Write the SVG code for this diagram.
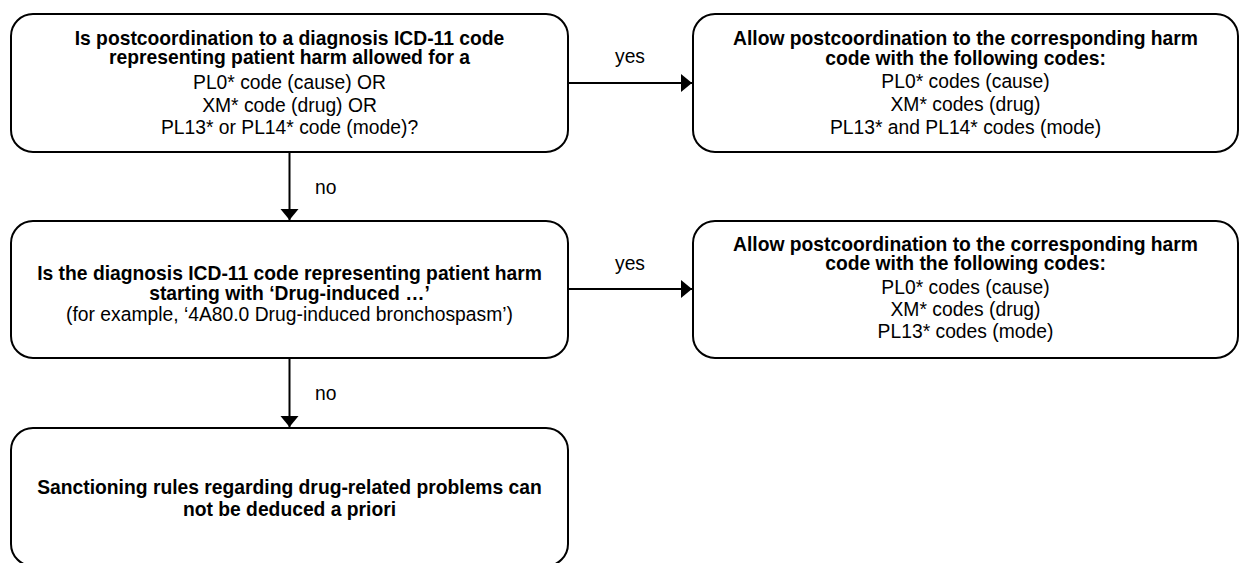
<svg xmlns="http://www.w3.org/2000/svg" width="1240" height="563" viewBox="0 0 1240 563">
<defs>
<marker id="arrow" markerUnits="userSpaceOnUse" markerWidth="12" markerHeight="20" viewBox="0 0 12 20" refX="11" refY="10" orient="auto">
<path d="M0,1 L11,10 L0,19 Z" fill="#000"/>
</marker>
</defs>
<style>
.box{fill:#fff;stroke:#000;stroke-width:2}
.b{font-family:"Liberation Sans",Arial,Helvetica,sans-serif;font-size:19.3px;font-weight:bold;fill:#000;text-anchor:middle}
.n{font-family:"Liberation Sans",Arial,Helvetica,sans-serif;font-size:19.3px;fill:#000;text-anchor:middle}
.lbl{font-family:"Liberation Sans",Arial,Helvetica,sans-serif;font-size:19.3px;fill:#000}
.conn{stroke:#000;stroke-width:2;fill:none;marker-end:url(#arrow)}
</style>
<rect width="1240" height="563" fill="#fff"/>
<g id="connectors">
<line class="conn" x1="568" y1="83" x2="692" y2="83"/>
<line class="conn" x1="568" y1="289" x2="692" y2="289"/>
<line class="conn" x1="289.5" y1="153" x2="289.5" y2="220"/>
<line class="conn" x1="289.5" y1="358" x2="289.5" y2="427"/>
<text class="lbl" x="615" y="63">yes</text>
<text class="lbl" x="615" y="270">yes</text>
<text class="lbl" x="315" y="194">no</text>
<text class="lbl" x="315" y="400">no</text>
</g>
<g id="q1">
<rect class="box" x="11" y="14" width="557" height="138" rx="22"/>
<text class="b" x="289.5" y="45">Is postcoordination to a diagnosis ICD-11 code</text>
<text class="b" x="289.5" y="64">representing patient harm allowed for a</text>
<text class="n" x="289.5" y="89">PL0* code (cause) OR</text>
<text class="n" x="289.5" y="112">XM* code (drug) OR</text>
<text class="n" x="289.5" y="134">PL13* or PL14* code (mode)?</text>
</g>
<g id="a1">
<rect class="box" x="693" y="14" width="545" height="138" rx="22"/>
<text class="b" x="965.5" y="45">Allow postcoordination to the corresponding harm</text>
<text class="b" x="965.5" y="65">code with the following codes:</text>
<text class="n" x="965.5" y="88">PL0* codes (cause)</text>
<text class="n" x="965.5" y="111">XM* codes (drug)</text>
<text class="n" x="965.5" y="134">PL13* and PL14* codes (mode)</text>
</g>
<g id="q2">
<rect class="box" x="11" y="221" width="557" height="137" rx="22"/>
<text class="b" x="289.5" y="280">Is the diagnosis ICD-11 code representing patient harm</text>
<text class="b" x="289.5" y="300">starting with ‘Drug-induced …’</text>
<text class="n" x="289.5" y="321">(for example, ‘4A80.0 Drug-induced bronchospasm’)</text>
</g>
<g id="a2">
<rect class="box" x="693" y="221" width="545" height="137" rx="22"/>
<text class="b" x="965.5" y="251">Allow postcoordination to the corresponding harm</text>
<text class="b" x="965.5" y="270">code with the following codes:</text>
<text class="n" x="965.5" y="294">PL0* codes (cause)</text>
<text class="n" x="965.5" y="316">XM* codes (drug)</text>
<text class="n" x="965.5" y="338">PL13* codes (mode)</text>
</g>
<g id="end">
<rect class="box" x="11" y="428" width="557" height="138" rx="22"/>
<text class="b" x="289.5" y="494">Sanctioning rules regarding drug-related problems can</text>
<text class="b" x="289.5" y="516">not be deduced a priori</text>
</g>
</svg>
